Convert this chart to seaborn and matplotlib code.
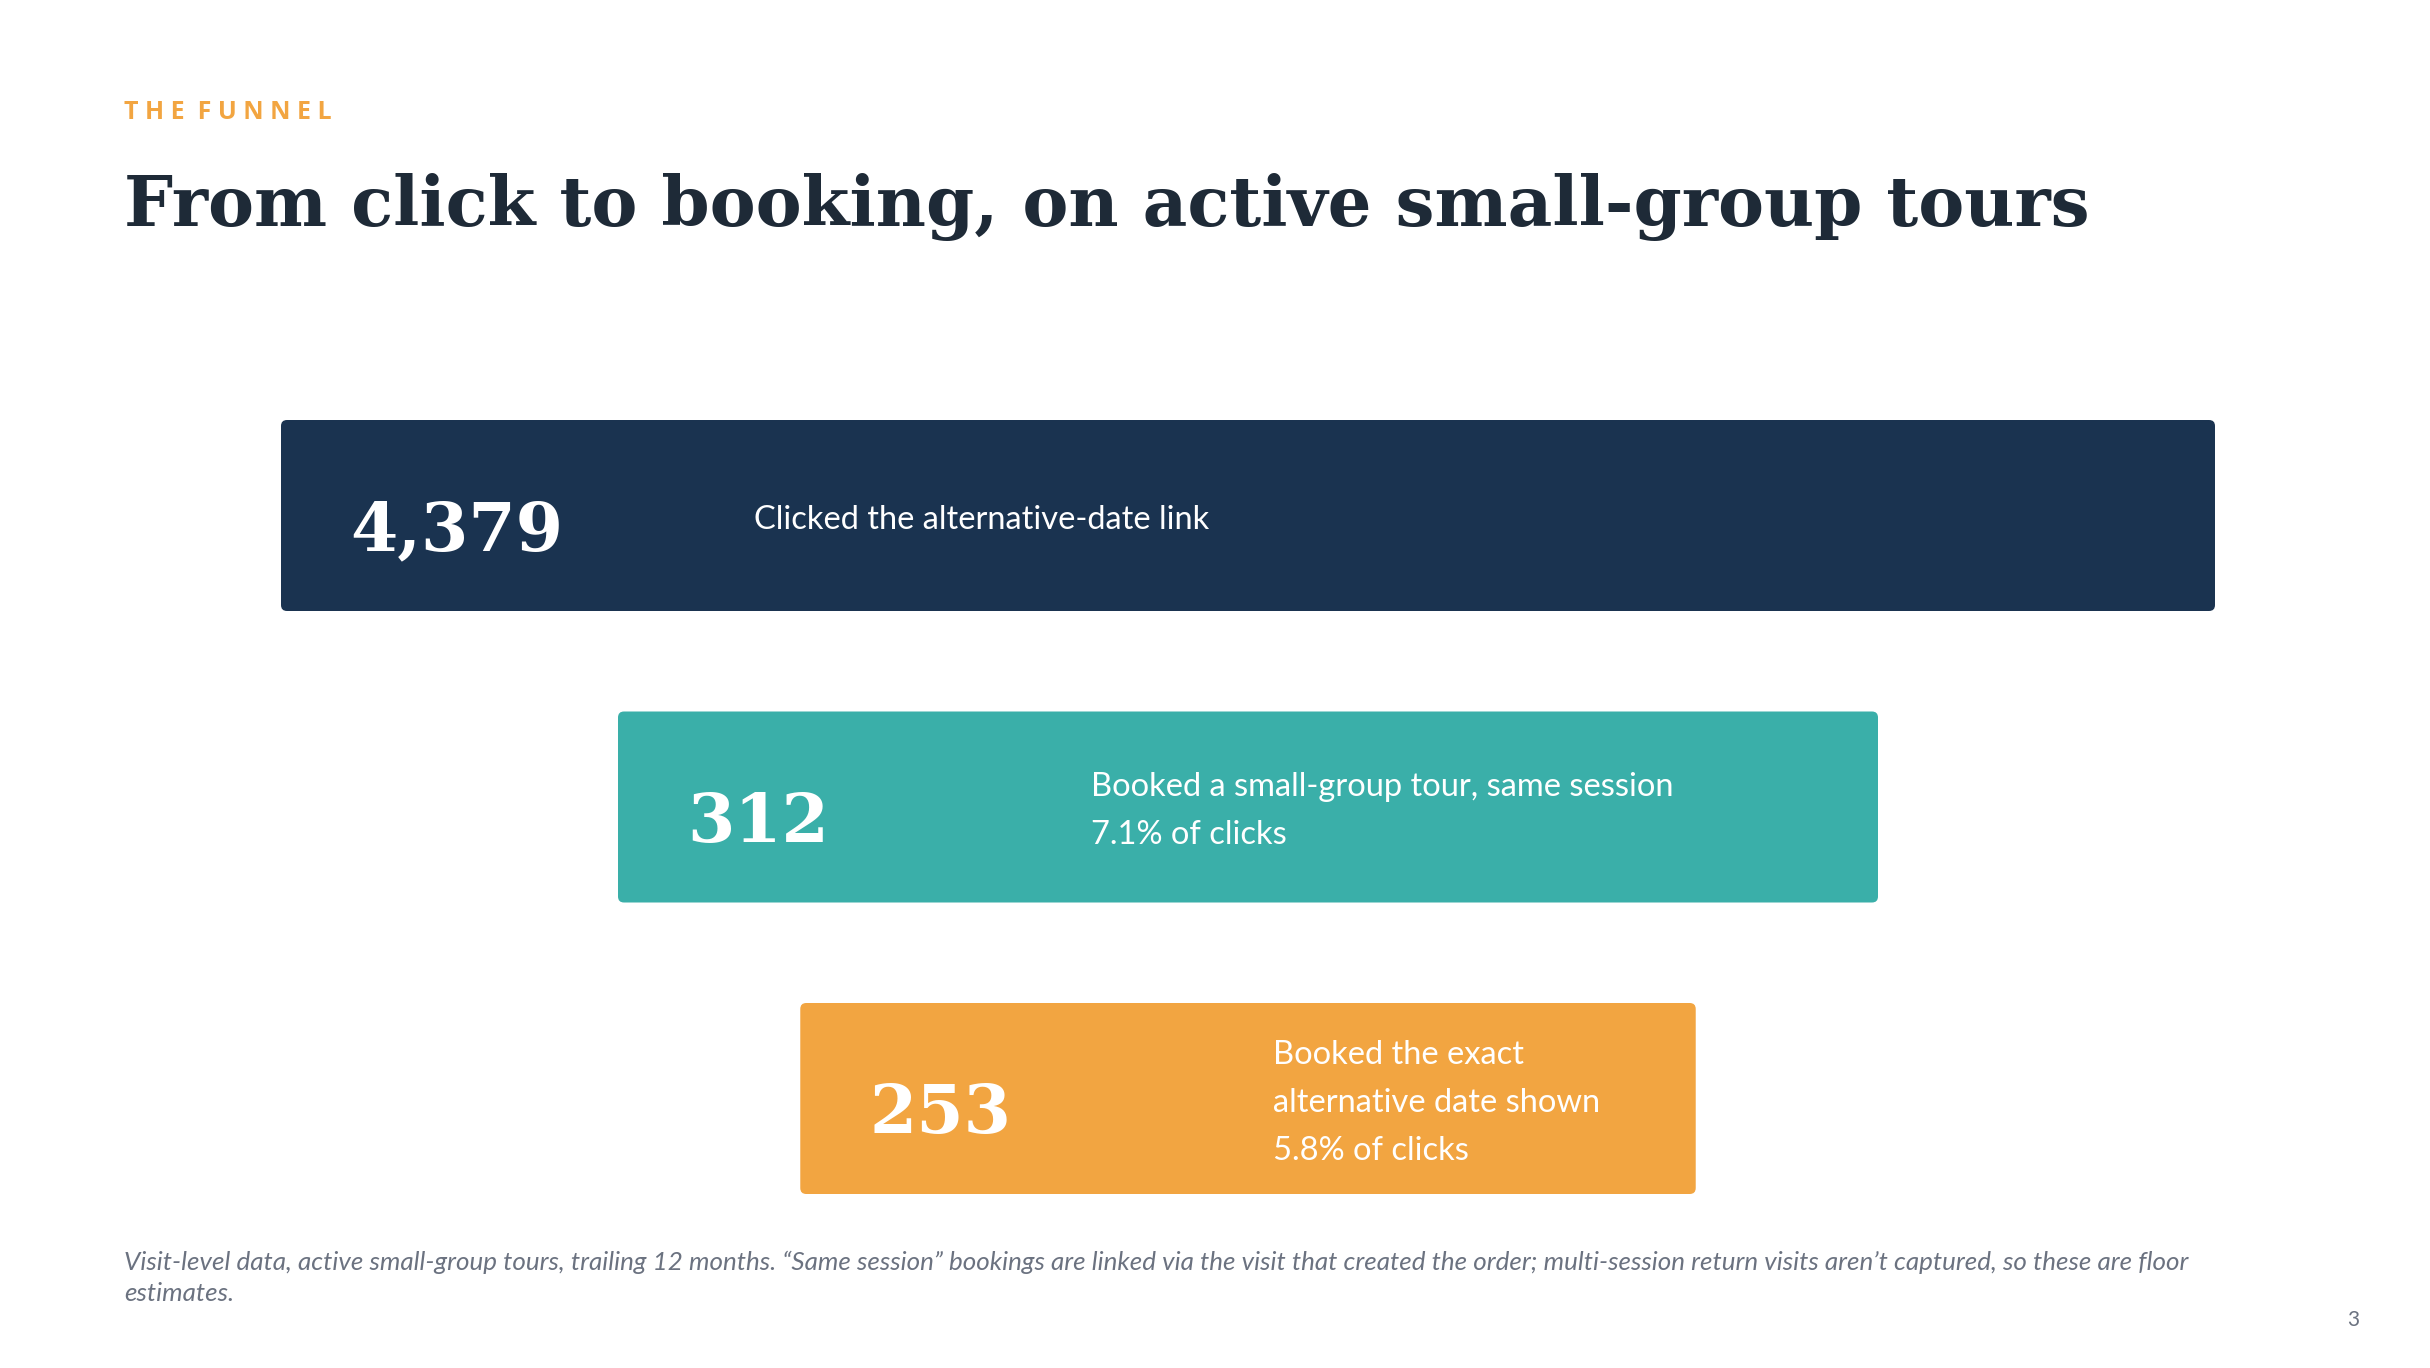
import numpy as np
import pandas as pd
import matplotlib
matplotlib.use('Agg')
import matplotlib.pyplot as plt
from matplotlib.patches import FancyBboxPatch
import seaborn as sns

# funnel data
stages = ['Clicked the alternative-date link',
          'Booked a small-group tour, same session',
          'Booked the exact\nalternative date shown']
counts = [4379, 312, 253]
show_pct = [False, True, True]

# funnel look (not data): relative bar widths and colours
bar_widths = [1.0, 0.6515, 0.463]
bar_colors = ['#1A3350', '#3AAFA9', '#F2A541']

navy_text = '#1E2A37'
orange = '#F2A541'
gray = '#6B7280'

sns.set_theme(style='white')
plt.rcParams['font.family'] = ['Lato', 'DejaVu Sans']

W, H = 2430, 1368
fig = plt.figure(figsize=(W / 100, H / 100), dpi=100)
fig.patch.set_facecolor('white')

# header
fig.text(124 / W, 1 - 119 / H, 'T H E  F U N N E L', color=orange,
         fontsize=18, fontweight='bold', family=['Open Sans', 'DejaVu Sans'], va='baseline')
fig.text(124 / W, 1 - 226 / H, 'From click to booking, on active small-group tours',
         color=navy_text, fontsize=49.7, fontweight='bold', family='DejaVu Serif', va='baseline')

# funnel axes
xpx, ypx = 1934, 291.5
ax = fig.add_axes([281 / W, 1 - 1194 / H, xpx / W, 774 / H])
h = 191 / ypx
df = pd.DataFrame({'stage': stages, 'width': bar_widths})
sns.barplot(data=df, x='width', y='stage', hue='stage', palette=bar_colors,
            orient='h', width=h, legend=False, linewidth=0, saturation=1, ax=ax)

ax.set_xlim(-0.5, 0.5)
ax.set_ylim(2 + h / 2, -h / 2)
ax.axis('off')

r = 6 / xpx
for p in list(ax.patches):
    w = p.get_width()
    y0 = p.get_y()
    ph = p.get_height()
    i = int(round(y0 + ph / 2))
    fc = p.get_facecolor()
    p.remove()
    ax.add_patch(FancyBboxPatch((-w / 2, y0), w, ph,
                                boxstyle=f'round,pad=0,rounding_size={r}',
                                mutation_aspect=xpx / ypx,
                                facecolor=fc, edgecolor='none'))
    ax.text(-w / 2 + 69 / xpx, i + 0.055, f'{counts[i]:,}', color='white',
            fontsize=49, fontweight='bold', family='DejaVu Serif',
            va='center', ha='left')
    label = stages[i]
    if show_pct[i]:
        label += f'\n{counts[i] / counts[0] * 100:.1f}% of clicks'
    ax.text(-w / 2 + 473 / xpx, i + 0.015, label, color='white', fontsize=23.5,
            va='center', ha='left', linespacing=1.76)

# footnote
fig.text(124 / W, 1 - 1270 / H,
         'Visit-level data, active small-group tours, trailing 12 months. \u201cSame session\u201d bookings '
         'are linked via the visit that created the order; multi-session return visits aren\u2019t captured, '
         'so these are floor', color=gray, fontsize=18.7, style='italic', va='baseline')
fig.text(124 / W, 1 - 1301 / H, 'estimates.', color=gray, fontsize=18.7, style='italic', va='baseline')
fig.text(2359 / W, 1 - 1326 / H, '3', color=gray, fontsize=15, va='baseline', ha='right')

fig.savefig('out.png', dpi=100, facecolor='white')
